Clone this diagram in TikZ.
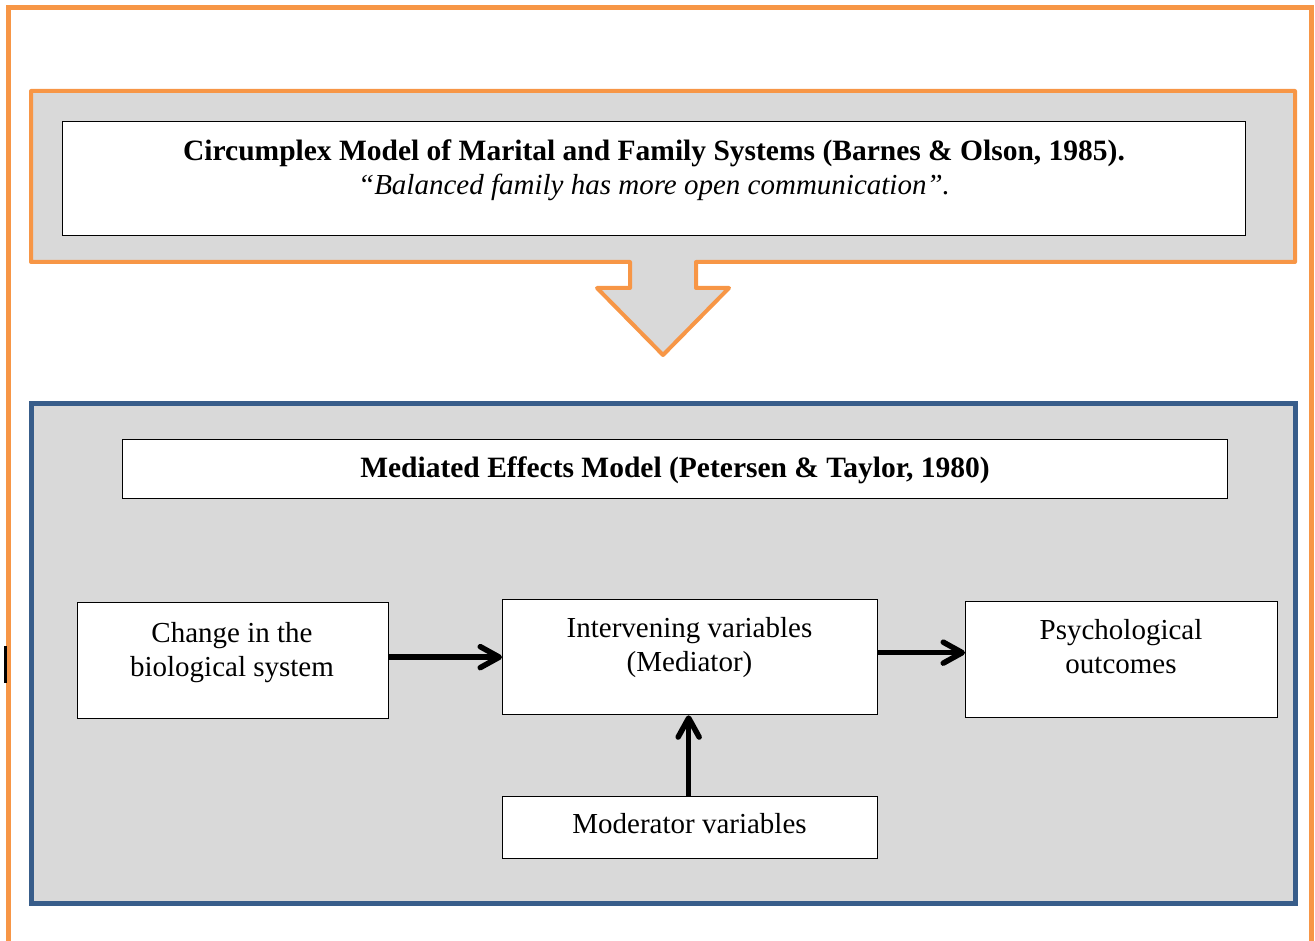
\documentclass[tikz,border=0pt]{standalone}
\usepackage{fontspec}
\setmainfont{Liberation Serif}
\usetikzlibrary{arrows.meta,calc}
\definecolor{frameorange}{HTML}{F79646}
\definecolor{frameblue}{HTML}{385D8A}
\definecolor{panelgray}{HTML}{D9D9D9}
\begin{document}
\begin{tikzpicture}[x=1pt,y=-1pt,
  txt/.style={font=\fontsize{29}{34}\selectfont, align=center, inner sep=0pt},
  boldtxt/.style={txt, font=\fontsize{29.5}{34}\selectfont\bfseries},
  box/.style={draw=black, line width=1.3pt, fill=white, inner sep=0pt, anchor=north west},
  flow/.style={line width=5.5pt, -{Straight Barb[length=19pt,width=21pt,round]}}
]
\useasboundingbox (0,0) rectangle (1315,941);
\clip (0,0) rectangle (1315,941);

% outer frame, running on below the page
\draw[frameorange, line width=5pt] (8,980) -- (8,8) -- (1311,8) -- (1311,980);

% small black mark on the left margin
\fill[black] (4,646) rectangle (6.5,683);

% upper panel with its down-pointing arrow
\draw[frameorange, line width=4pt, fill=panelgray, line join=round]
  (31,91) -- (1295,91) -- (1295,262) -- (696,262) -- (696,288) -- (729,288)
  -- (663,355) -- (597,288) -- (630,288) -- (630,262) -- (31,262) -- cycle;

% lower panel
\draw[frameblue, line width=5pt, fill=panelgray] (31,403) rectangle (1295,903);

% boxes
\node[box, minimum width=1183pt, minimum height=114pt] (circ) at (62,121) {};
\node[box, minimum width=1105pt, minimum height=59pt] (med) at (122,439) {};
\node[box, minimum width=311pt, minimum height=116pt] (chg) at (77,602) {};
\node[box, minimum width=375pt, minimum height=115pt] (int) at (502,599) {};
\node[box, minimum width=312pt, minimum height=116pt] (psy) at (965,601) {};
\node[box, minimum width=375pt, minimum height=62pt] (mod) at (502,796) {};

% texts
\node[txt] (circtxt) at (654,170) {{\fontsize{29.5}{34}\selectfont\bfseries Circumplex Model of Marital and Family Systems (Barnes \& Olson, 1985).}\\\textit{“Balanced family has more open communication”.}};
\node[boldtxt] (medtxt) at (675,470) {Mediated Effects Model (Petersen \& Taylor, 1980)};
\node[txt] (chgtxt) at (232,653) {Change in the\\biological system};
\node[txt] (inttxt) at (689.5,648) {Intervening variables\\(Mediator)};
\node[txt] (psytxt) at (1121,647) {Psychological\\outcomes};
\node[txt] (modtxt) at (689.5,824) {Moderator variables};

% connectors
\draw[flow] (chg.east |- int.west) -- (int.west);
\draw[flow] ([yshift=4.5pt]int.east) -- ([yshift=4.5pt]int.east -| psy.west);
\draw[flow] ([xshift=-1.5pt]mod.north) -- ([xshift=-1.5pt]int.south);
\end{tikzpicture}
\end{document}
